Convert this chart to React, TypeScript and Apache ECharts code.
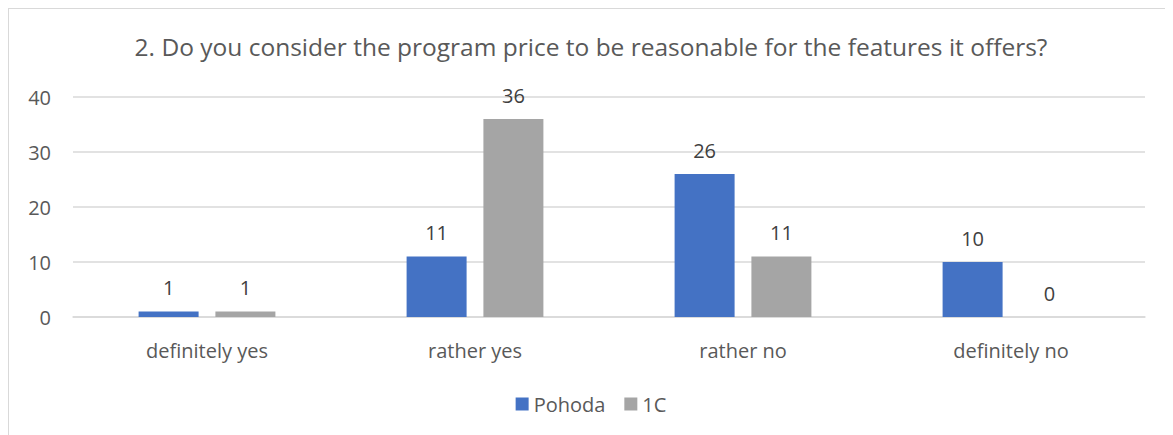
import React, { useEffect, useRef } from "react";
import * as echarts from "echarts";

const categories = ["definitely yes", "rather yes", "rather no", "definitely no"];
const pohoda = [1, 11, 26, 10];
const oneC = [1, 36, 11, 0];
const yTicks = { min: 0, max: 40, interval: 10 };
const title = "2. Do you consider the program price to be reasonable for the features it offers?";

const FONT = "'Open Sans', 'Noto Sans', sans-serif";

export default function App() {
  const ref = useRef<HTMLDivElement>(null);
  useEffect(() => {
    if (!ref.current) return;
    const chart = echarts.init(ref.current, undefined, { renderer: "svg" });
    const labelStyle = {
      show: true,
      position: "top" as const,
      distance: 14,
      color: "#404040",
      fontSize: 20,
      fontFamily: FONT,
    };
    chart.setOption({
      animation: false,
      backgroundColor: "#ffffff",
      title: {
        text: title,
        left: "center",
        top: 20,
        textStyle: { color: "#595959", fontSize: 24.5, fontWeight: "normal", fontFamily: FONT },
      },
      legend: {
        bottom: 16,
        left: "center",
        itemWidth: 13,
        itemHeight: 13,
        itemGap: 19,
        textStyle: { color: "#595959", fontSize: 20, fontFamily: FONT },
        data: [
          { name: "Pohoda", icon: "rect" },
          { name: "1C", icon: "rect" },
        ],
      },
      grid: { left: 64, right: 28, top: 88, bottom: 118, containLabel: false },
      xAxis: {
        type: "category",
        data: categories,
        axisLine: { lineStyle: { color: "#d9d9d9", width: 1.5 } },
        axisTick: { show: false },
        axisLabel: { color: "#595959", fontSize: 20, fontFamily: FONT, margin: 23 },
      },
      yAxis: {
        type: "value",
        min: yTicks.min,
        max: yTicks.max,
        interval: yTicks.interval,
        axisLine: { show: false },
        axisTick: { show: false },
        splitLine: { lineStyle: { color: "#d9d9d9", width: 1.5 } },
        axisLabel: { color: "#595959", fontSize: 20, fontFamily: FONT, margin: 22 },
      },
      series: [
        {
          name: "Pohoda",
          type: "bar",
          data: pohoda,
          barWidth: 60,
          barGap: "28%",
          itemStyle: { color: "#4472C4" },
          label: labelStyle,
        },
        {
          name: "1C",
          type: "bar",
          data: oneC,
          barWidth: 60,
          barGap: "28%",
          itemStyle: { color: "#A5A5A5" },
          label: labelStyle,
        },
      ],
    });
    return () => chart.dispose();
  }, []);
  return (
    <div
      ref={ref}
      style={{
        width: 1165,
        height: 427,
        borderTop: "1.5px solid #d9d9d9",
        borderLeft: "1.5px solid #d9d9d9",
        boxSizing: "border-box",
      }}
    />
  );
}
